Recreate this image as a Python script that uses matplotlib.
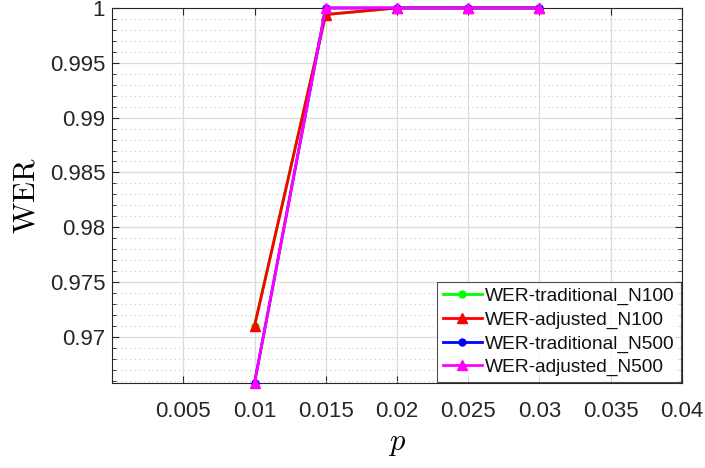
import matplotlib
matplotlib.use("Agg")
import matplotlib.pyplot as plt
from matplotlib.ticker import MultipleLocator, FixedLocator

plt.rcParams['font.family'] = ['Liberation Sans', 'DejaVu Sans']
plt.rcParams['mathtext.fontset'] = 'cm'

p_n100 = [0.01, 0.015, 0.02, 0.025, 0.03]
wer_trad_n100 = [0.971, 0.9994, 1.0, 1.0, 1.0]
wer_adj_n100 = [0.971, 0.9994, 1.0, 1.0, 1.0]
p_n500 = [0.01, 0.015, 0.02, 0.025, 0.03]
wer_trad_n500 = [0.9658, 1.0, 1.0, 1.0, 1.0]
wer_adj_n500 = [0.9658, 1.0, 1.0, 1.0, 1.0]

xticks = [0.005, 0.01, 0.015, 0.02, 0.025, 0.03, 0.035, 0.04]
xticklabels = ['0.005', '0.01', '0.015', '0.02', '0.025', '0.03', '0.035', '0.04']
yticks = [0.97, 0.975, 0.98, 0.985, 0.99, 0.995, 1.0]
yticklabels = ['0.97', '0.975', '0.98', '0.985', '0.99', '0.995', '1']

fig = plt.figure(figsize=(7.05, 4.68), dpi=100)
ax = fig.add_axes([0.159, 0.1816, 0.808, 0.8014])

lw = 2.0
ax.plot(p_n100, wer_trad_n100, color='#00ff00', marker='o', markersize=5, lw=lw,
        label='WER-traditional_N100', clip_on=False, zorder=3)
ax.plot(p_n100, wer_adj_n100, color='#ff0000', marker='^', markersize=7, lw=lw,
        label='WER-adjusted_N100', clip_on=False, zorder=3)
ax.plot(p_n500, wer_trad_n500, color='#0000ff', marker='o', markersize=5, lw=lw,
        label='WER-traditional_N500', clip_on=False, zorder=3)
ax.plot(p_n500, wer_adj_n500, color='#ff00ff', marker='^', markersize=7, lw=lw,
        label='WER-adjusted_N500', clip_on=False, zorder=3)

ax.set_xlim(0, 0.04)
ax.set_ylim(0.9658, 1.0)
ax.xaxis.set_major_locator(FixedLocator(xticks))
ax.set_xticklabels(xticklabels)
ax.yaxis.set_major_locator(FixedLocator(yticks))
ax.set_yticklabels(yticklabels)
ax.yaxis.set_minor_locator(MultipleLocator(0.001))

axcol = '#262626'
for s in ax.spines.values():
    s.set_color(axcol)
    s.set_linewidth(0.8)
ax.tick_params(which='both', direction='in', top=True, right=True, colors=axcol,
               labelsize=16, labelcolor=axcol)
ax.tick_params(which='major', length=5)
ax.tick_params(which='minor', length=3)
ax.tick_params(axis='x', pad=13)
ax.tick_params(axis='y', pad=5)

ax.grid(True, which='major', color='#dcdcdc', lw=0.9, ls='-')
ax.grid(True, which='minor', axis='y', color='#c8c8c8', lw=0.8, ls=(0, (1, 3)))
ax.set_axisbelow(True)

ax.set_xlabel(r'$p$', fontsize=22, labelpad=4)
ax.set_ylabel(r'$\mathrm{WER}$', fontsize=22, labelpad=6)

leg = ax.legend(loc='lower right', fontsize=13.8, frameon=True, fancybox=False,
                borderaxespad=0.05, handlelength=2.0, handletextpad=0.2,
                labelspacing=0.32, borderpad=0.3)
leg.get_frame().set_edgecolor(axcol)
leg.get_frame().set_linewidth(0.8)
for t in leg.get_texts():
    t.set_color('#111111')

fig.savefig('out.png', dpi=100)
